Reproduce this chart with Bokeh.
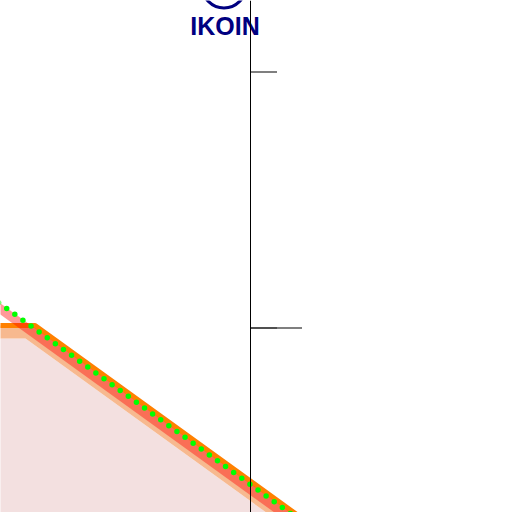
from bokeh.plotting import figure
from bokeh.models import Range1d, Span
from bokeh.core.properties import value
from bokeh.embed import file_html
from bokeh.resources import INLINE

# ---- data (chart units, y upward) ----
green_x = [-10, 300]
green_y = [215.7, -8.25]

band_x = [-10, 300]
band_y = [210.7, -13.25]

orange_x = [-10, 34.6, 300]
orange_y = [187, 187, -4.75]

fill_x = [-10, 25, 300]
fill_y = [174, 174, -24.75]
fill_floor = -40

axis_x = 250
tick_y = [440.5, 184.5]
tick_len = [26, 51]
inner_tick_y = [184.5]
inner_tick_len = [26]

marker_x = [223.5]
marker_y = [526.2]
marker_r = 21.7
label = ["IKOIN"]
label_x = [224.5]
label_y = [486.5]

p = figure(width=512, height=512, x_range=Range1d(0, 512), y_range=Range1d(0, 512),
           toolbar_location=None, output_backend="svg", min_border=0,
           x_axis_location=None, y_axis_location=None)
p.grid.visible = False
p.outline_line_color = None
p.background_fill_color = "white"
p.border_fill_color = "white"

# pink fill
p.patch(fill_x + [fill_x[-1], fill_x[0]], fill_y + [fill_floor, fill_floor],
        fill_color="#f3e0e0", line_color=None)
# peach band between orange line and fill
p.patch(orange_x + fill_x[::-1], orange_y + fill_y[::-1],
        fill_color="#f7b98f", line_color=None)
# orange line
p.line(orange_x, orange_y, line_color="#ff8000", line_width=5)
# translucent red band
p.line(band_x, band_y, line_color="red", line_alpha=0.4, line_width=9)
# green dotted line
p.line(green_x, green_y, line_color="#00ff00", line_width=5.5, line_dash="0 10", line_cap="round")

# axis line and ticks
p.add_layout(Span(location=axis_x, dimension="height", line_color="black", line_width=1))
p.segment(x0=[axis_x + 0.5] * len(tick_y), y0=tick_y, x1=[axis_x + 0.5 + t for t in tick_len], y1=tick_y,
          line_color="#555555", line_width=1.5)
p.segment(x0=[axis_x + 0.5] * len(inner_tick_y), y0=inner_tick_y,
          x1=[axis_x + 0.5 + t for t in inner_tick_len], y1=inner_tick_y,
          line_color="#222222", line_width=1)

# marker circle and label
p.circle(marker_x, marker_y, radius=marker_r, radius_dimension="x",
         fill_color=None, line_color="#000080", line_width=3)
p.text(label_x, label_y, text=label, text_align="center", text_baseline="alphabetic",
       text_font=value("Liberation Sans"), text_font_style="bold",
       text_font_size="25px", text_color="#000080")

html = file_html(p, INLINE)
html = html.replace("<head>", "<head><style>html,body{margin:0;padding:0;}</style>", 1)
open("out.html", "w").write(html)
